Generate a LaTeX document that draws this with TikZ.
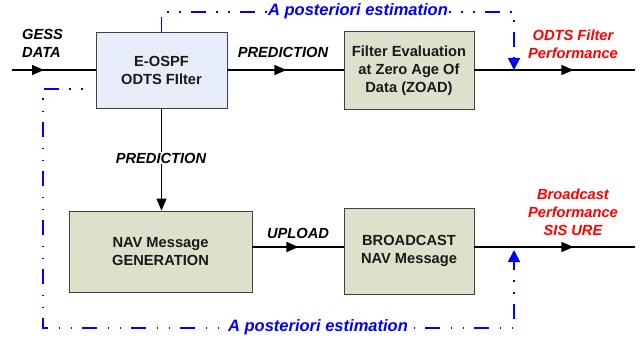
\documentclass[tikz,border=0pt]{standalone}
\usepackage{fontspec}
\setmainfont{Liberation Sans}
\usetikzlibrary{arrows.meta,decorations.markings}

\definecolor{boxblue}{HTML}{E6EDF8}
\definecolor{boxkhaki}{HTML}{DDE0CA}
\definecolor{edgegray}{HTML}{404040}
\definecolor{estblue}{HTML}{0000FF}
\definecolor{perfred}{HTML}{FF0000}

\newcommand\diagsize{\fontsize{14.67}{18}\selectfont}
\newcommand\estsize{\fontsize{16.5}{19}\selectfont}

\tikzset{
  block/.style={draw=edgegray, line width=0.9pt, fill=boxkhaki, align=center,
    inner sep=0pt, text=black!90, font=\diagsize\bfseries},
  flow/.style={line width=1.4pt, draw=black},
  tipat/.style={postaction={decorate}, decoration={markings,
    mark=at position #1 with {\arrow{Triangle[length=12pt,width=10pt]}}}},
  tag/.style={font=\diagsize\bfseries\itshape, align=center, inner sep=1pt},
  esttag/.style={font=\estsize\bfseries\itshape, text=estblue, fill=white, inner sep=1pt},
  est/.style={draw=estblue, line width=1.8pt,
    dash pattern=on 15pt off 10.5pt on 1.5pt off 10.5pt on 1.5pt off 10pt},
  esttip/.style={-{Triangle[length=12pt,width=12pt]}},
}

\begin{document}
\begin{tikzpicture}[x=1pt, y=-1pt]
  \useasboundingbox (0,0) rectangle (643,337);

  % processing blocks
  \node[block, fill=boxblue, minimum width=131pt, minimum height=76pt]
    (eospf) at (161.5,70) {E-OSPF\\ODTS FIlter};
  \node[block, minimum width=130pt, minimum height=78pt]
    (zoad) at (409,70.5) {Filter Evaluation\\at Zero Age Of\\Data (ZOAD)};
  \node[block, minimum width=183pt, minimum height=81pt]
    (nav) at (160.5,251.5) {NAV Message\\GENERATION};
  \node[block, minimum width=130pt, minimum height=86pt]
    (bcast) at (409,251) {BROADCAST\\NAV Message};

  % free line ends
  \coordinate (gin) at (12,70);
  \coordinate (oend) at (635,70);
  \coordinate (uend) at (635,247);
  \coordinate (tcorner) at (514,12);
  \coordinate (bstart) at (88,89);
  \coordinate (bl) at (43,89);
  \coordinate (bb) at (43,328);
  \coordinate (br) at (514,328);

  % data flow
  \draw[flow, tipat=32pt] (gin) -- (eospf.west);
  \draw[flow, tipat=59pt] (eospf.east) -- (eospf.east -| zoad.west);
  \draw[flow, tipat=99pt] (zoad.east |- oend) -- (oend);
  \draw[line width=1.2pt, -{Triangle[length=12pt,width=10pt]}]
    (eospf.south) -- (eospf.south |- nav.north);
  \draw[flow, tipat=46pt] (nav.east |- uend) -- (bcast.west |- uend);
  \draw[flow, tipat=99pt] (bcast.east |- uend) -- (uend);

  % a posteriori estimation feedback
  \draw[est, esttip] (eospf.north) |- (tcorner) -- (tcorner |- oend);
  \draw[est, esttip, dash phase=20pt, shorten >=3pt]
    (bstart) -- (bl) -- (bb) -- (br) -- (br |- uend);

  % labels
  \node[tag, anchor=west, align=left] (gess) at (21,43) {GESS\\DATA};
  \node[tag] (pred1) at (283,52) {PREDICTION};
  \node[tag, fill=white] (pred2) at (161,158) {PREDICTION};
  \node[tag] (upl) at (298,233) {UPLOAD};
  \node[tag, text=perfred] (odtsperf) at (573,44) {ODTS Filter\\Performance};
  \node[tag, text=perfred] (bperf) at (573,212) {Broadcast\\Performance\\SIS URE};
  \node[esttag] (est1) at (358,11) {A posteriori estimation};
  \node[esttag] (est2) at (318,327) {A posteriori estimation};
\end{tikzpicture}
\end{document}
